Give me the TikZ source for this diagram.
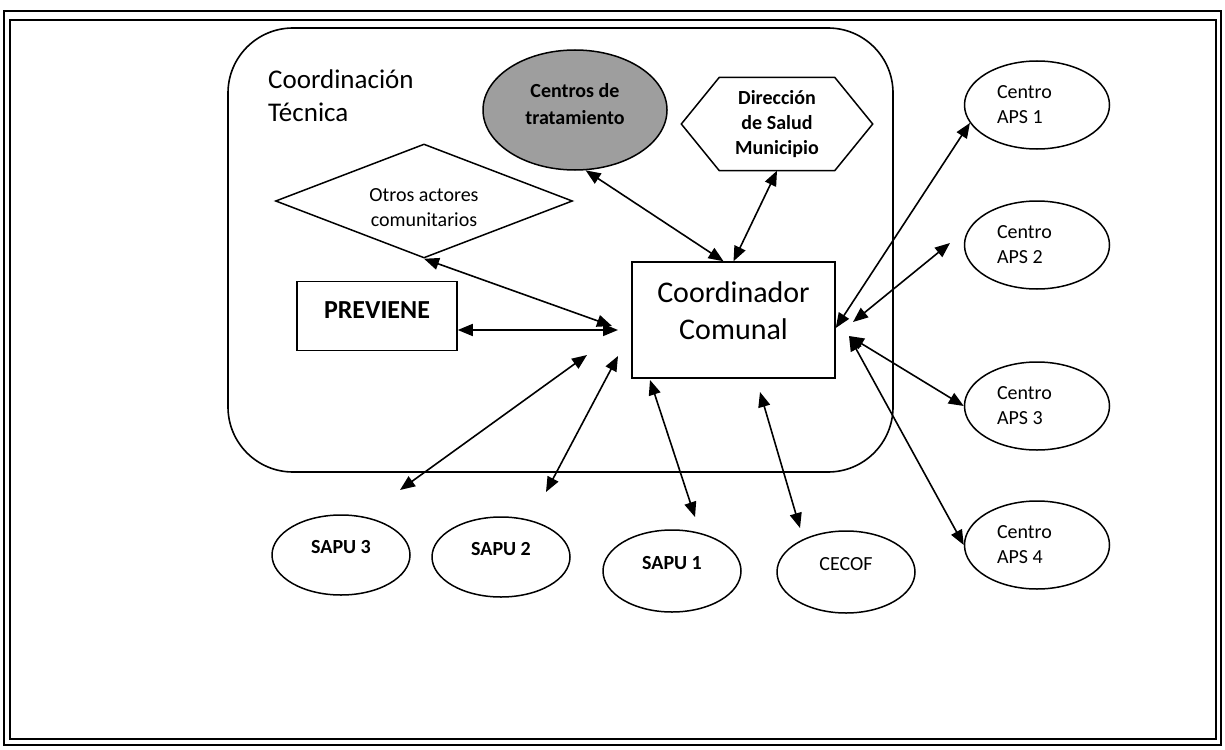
\documentclass[tikz,border=0pt]{standalone}
\usepackage{fontspec}
\setmainfont{Carlito}
\usetikzlibrary{arrows.meta,shapes.geometric}
\begin{document}
\begin{tikzpicture}[x=1pt,y=-1pt,
  txt/.style={font=\fontsize{20}{25}\selectfont, align=center},
  oval/.style={draw, ellipse, line width=1.5pt, inner sep=0pt, txt},
  link/.style={line width=1.6pt, {Triangle[length=15pt,width=12pt]}-{Triangle[length=15pt,width=12pt]}}]
\useasboundingbox (0,0) rectangle (1225,749);
% marco
\draw[line width=1.2pt] (4,11) rectangle (1221,745);
\draw[line width=1.5pt] (10,20) rectangle (1216,739);
% coordinacion tecnica
\draw[line width=1.6pt, rounded corners=65pt] (228,28) rectangle (893,472);
\node[anchor=north west, inner sep=0pt, align=left, font=\fontsize{27}{33}\selectfont] (tecnica) at (268,70) {Coordinación\\Técnica};
\node[oval, fill=black!38, font=\fontsize{20}{27}\selectfont\bfseries, minimum width=184pt, minimum height=120pt, text depth=12pt] (centros) at (575,110) {Centros de\\tratamiento};
\node[txt, font=\fontsize{20}{25}\selectfont\bfseries, minimum width=191pt, minimum height=93pt, inner sep=0pt] (direccion) at (777,124) {Dirección\\de Salud\\Municipio};
\draw[line width=1.5pt] (direccion.west) -- ([xshift=38pt]direccion.north west) -- ([xshift=-38pt]direccion.north east)
  -- (direccion.east) -- ([xshift=-38pt]direccion.south east) -- ([xshift=38pt]direccion.south west) -- cycle;
\node[draw, diamond, aspect=2.6, minimum width=297pt, minimum height=114pt, inner sep=0pt, line width=1.5pt] (otros) at (424,201) {};
\node[txt] (otrostxt) at (424,208) {Otros actores\\comunitarios};
\node[draw, line width=1.5pt, minimum width=160pt, minimum height=69pt, text depth=12pt, font=\fontsize{26}{30}\selectfont\bfseries] (previene) at (377,316) {PREVIENE};
\node[draw, line width=1.5pt, minimum width=203pt, minimum height=116pt, align=center, text depth=18pt, font=\fontsize{30}{37}\selectfont] (coord) at (733.5,320) {Coordinador\\Comunal};
% centros externos
\node[oval, font=\fontsize{20}{25}\selectfont\bfseries, minimum width=138pt, minimum height=80pt, text depth=16pt] (sapu3) at (341,555) {SAPU 3};
\node[oval, font=\fontsize{20}{25}\selectfont\bfseries, minimum width=138pt, minimum height=80pt, text depth=16pt] (sapu2) at (501,557) {SAPU 2};
\node[oval, font=\fontsize{20}{25}\selectfont\bfseries, minimum width=138pt, minimum height=82pt, text depth=16pt] (sapu1) at (672,571) {SAPU 1};
\node[oval, minimum width=138pt, minimum height=82pt, text depth=16pt] (cecof) at (846,572) {CECOF};
\foreach \i/\y in {1/105, 2/245, 3/406, 4/545}
  \node[oval, align=flush left, text width=80pt, minimum width=145pt, minimum height=88pt] (aps\i) at (1037,\y) {Centro\\APS~\i};
% puntos libres
\coordinate (pl) at (618,330);
\coordinate (po) at (612,326);
\coordinate (s3a) at (587,355); \coordinate (s3b) at (400,490);
\coordinate (s2a) at (618,356); \coordinate (s2b) at (546,492);
\coordinate (s1a) at (650,380); \coordinate (s1b) at (695,517);
\coordinate (cfa) at (760,392); \coordinate (cfb) at (800,528);
\coordinate (a2a) at (853,322); \coordinate (a2b) at (950,243);
\coordinate (pr) at (849,336);
% conexiones
\draw[link] (centros.-80) -- ([xshift=-10pt]coord.north);
\draw[link] (direccion.south) -- (coord.north);
\draw[link] (otros.south) -- (po);
\draw[link] (previene.east |- pl) -- (pl);
\draw[link] (s3a) -- (s3b);
\draw[link] (s2a) -- (s2b);
\draw[link] (s1a) -- (s1b);
\draw[link] (cfa) -- (cfb);
\draw[link] ([yshift=-8pt]coord.east) -- (aps1.195);
\draw[link] (a2a) -- (a2b);
\draw[link] (pr) -- (aps3.west);
\draw[link] (pr) -- (aps4.west);
\end{tikzpicture}
\end{document}
